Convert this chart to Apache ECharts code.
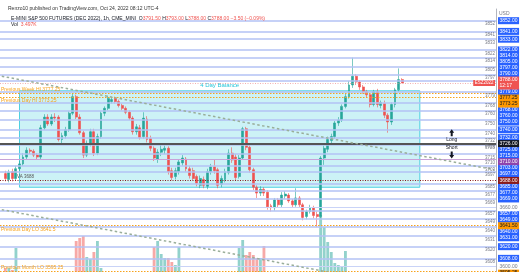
<!DOCTYPE html>
<html><head><meta charset="utf-8">
<script src="https://cdn.jsdelivr.net/npm/echarts@6/dist/echarts.min.js"></script>
<style>html,body{margin:0;padding:0;background:#fff;overflow:hidden}#c{width:520px;height:272px}</style>
</head><body><div id="c"></div>
<script>
// ---- data (1h candles) ----
const opens = [3695,3689,3697,3690,3700,3705,3712,3719,3718,3714,3712,3742,3753,3746,3753,3753,3730,3734,3740,3757,3774,3753,3737,3714,3726,3738,3716,3733,3757,3762,3769,3772,3769,3765,3762,3758,3752,3738,3742,3733,3751,3731,3721,3710,3717,3719,3721,3698,3692,3697,3706,3710,3700,3698,3692,3683,3689,3682,3697,3702,3699,3684,3689,3696,3716,3712,3692,3711,3741,3722,3699,3681,3675,3679,3676,3662,3660,3668,3663,3672,3673,3667,3663,3670,3663,3651,3656,3660,3653,3651,3711,3720,3729,3733,3747,3750,3764,3774,3786,3795,3789,3784,3779,3776,3766,3779,3765,3767,3755,3748,3766,3781,3791.5];
const closes = [3690,3696,3690,3700,3705,3712,3719,3718,3714,3712,3742,3753,3746,3753,3752,3730,3734,3740,3757,3774,3753,3737,3714,3726,3738,3716,3733,3757,3762,3772,3771,3769,3765,3762,3758,3752,3738,3743,3732,3752,3730,3721,3711,3717,3720,3721,3697,3691,3698,3707,3711,3700,3693,3690,3685,3690,3683,3697,3702,3698,3683,3690,3697,3716,3709,3691,3711,3741,3722,3699,3681,3675,3679,3675,3661,3660,3668,3663,3673,3674,3667,3663,3670,3663,3650,3656,3660,3652,3651,3711,3721,3730,3733,3747,3750,3764,3774,3786,3795,3789,3784,3779,3776,3766,3779,3766,3768,3755,3748,3766,3781,3791.5,3788];
const lows = [3687,3686,3687,3688,3697,3703,3710,3715,3712,3709,3710,3740,3744,3744,3748,3728,3726,3731,3738,3755,3751,3735,3711,3712,3723,3713,3714,3731,3754,3760,3767,3767,3763,3760,3756,3750,3735,3735,3730,3731,3727,3718,3708,3706,3713,3715,3694,3688,3689,3694,3703,3697,3690,3688,3682,3680,3680,3679,3694,3695,3680,3681,3686,3694,3706,3688,3690,3709,3719,3696,3678,3670,3672,3672,3658,3656,3657,3660,3660,3669,3665,3660,3661,3660,3647,3648,3654,3649,3640,3649,3704,3717,3726,3731,3744,3748,3762,3772,3783,3786,3781,3777,3773,3763,3764,3763,3762,3752,3737,3745,3763,3779,3788];
const highs = [3698,3699,3700,3703,3708,3716,3722,3721,3720,3716,3745,3756,3756,3756,3757,3755,3737,3743,3759,3777,3776,3756,3739,3729,3741,3741,3736,3759,3764,3775,3773,3774,3771,3767,3764,3760,3754,3746,3745,3758,3754,3734,3723,3720,3726,3724,3723,3701,3701,3710,3714,3712,3703,3701,3694,3693,3692,3700,3705,3710,3701,3693,3700,3720,3722,3715,3714,3743,3743,3724,3701,3683,3682,3681,3678,3664,3670,3670,3676,3677,3675,3669,3680,3672,3665,3658,3663,3662,3656,3713,3724,3733,3736,3749,3753,3766,3777,3790,3814,3797,3791,3786,3781,3778,3781,3782,3770,3770,3757,3768,3783,3803,3793];
const volumes = [44,44,42,64,30,28,25,20,18,22,35,30,24,22,20,33,26,22,30,36,71,74,76,55,53,60,71,44,30,28,22,20,18,17,19,24,32,25,27,30,34,36,65,71,58,54,54,50,47,65,36,30,28,25,24,22,20,26,22,18,24,20,22,30,28,32,64,72,57,60,57,54,54,66,36,28,22,20,24,18,16,18,20,22,30,24,20,26,38,97,85,70,60,49,47,46,61,38,36,30,26,22,20,26,24,22,18,24,30,28,25,22,8];

// horizontal levels (blue lines, grey line labels, blue price boxes)
const levels = [3852,3841,3833,3822,3814,3805,3797,3790,3779,3768,3760,3750,3740,3732,3725,3715,3703,3697,3685,3677,3669,3657,3649,3640,3631,3620,3608];
const currentPrice = 3788;
const pivotLevel = 3726;
const purpleLevel = 3710;
const vaLevel = 3688;
const prevLevels = [3777.25, 3773.25, 3641.5, 3595.25];
const prevNames = ['Previous Week HI 3777.25', 'Previous Day HI 3773.25', 'Previous Day LO 3641.5', 'Previous Month LO 3595.25'];
const greyLevels = [3660, 3600];
const balanceTop = 3780, balanceBottom = 3681;
const balanceStartSlot = 5, balanceEndSlot = 118;
const trendA = [[0, 3795], [139, 3699]];
const trendB = [[0, 3658], [92, 3594]];

// ---- layout ----
const padBefore = 1, padAfter = 26;
const N = opens.length;
const total = N + padBefore + padAfter;
const categories = [];
for (let k = 0; k < total; k++) categories.push(String(k));

const UP = '#26a69a', DOWN = '#ef5350';
const candleData = categories.map((_, k) => {
  const i = k - padBefore;
  return (i >= 0 && i < N) ? [opens[i], closes[i], lows[i], highs[i]] : '-';
});
const volData = categories.map((_, k) => {
  const i = k - padBefore;
  if (i < 0 || i >= N) return '-';
  return { value: volumes[i], itemStyle: { color: closes[i] >= opens[i] ? 'rgba(38,166,154,0.5)' : 'rgba(239,83,80,0.5)' } };
});

const boxes = [];
levels.forEach(v => boxes.push({ v, text: v.toFixed(2), bg: '#2962ff', fg: '#fff', hh: 3 }));
boxes.push({ v: currentPrice, text: currentPrice.toFixed(2) + '\n12:17', bg: '#ef5350', fg: '#fff', hh: 6, cur: true });
boxes.push({ v: pivotLevel, text: pivotLevel.toFixed(2), bg: '#131722', fg: '#fff', hh: 3 });
boxes.push({ v: purpleLevel, text: purpleLevel.toFixed(2), bg: '#8e44ad', fg: '#fff', hh: 3 });
boxes.push({ v: vaLevel, text: vaLevel.toFixed(2), bg: '#8b1a1a', fg: '#fff', hh: 3 });
prevLevels.forEach(v => boxes.push({ v, text: v.toFixed(2), bg: '#ff9800', fg: '#131722', hh: 3 }));
greyLevels.forEach(v => boxes.push({ v, text: v.toFixed(2), bg: '#ffffff', fg: '#787b86', hh: 3 }));

const chart = echarts.init(document.getElementById('c'));
const FONT = 'Liberation Sans, Arial, sans-serif';

function boxMarkData(offsets) {
  return boxes.map((b, i) => ({
    yAxis: b.v,
    lineStyle: { color: 'rgba(0,0,0,0)', width: 0.1 },
    label: {
      show: true, position: 'end', distance: 2, formatter: b.text,
      backgroundColor: b.bg, color: b.fg, fontSize: 5, lineHeight: 6, padding: [0.5, 1.5],
      fontFamily: FONT, offset: [0, offsets ? offsets[i] : 0]
    }
  }));
}

const option = {
  animation: false,
  backgroundColor: '#fff',
  title: [
    { text: 'Renzo10 published on TradingView.com, Oct 24, 2022 08:12 UTC-4', left: 3, top: 1,
      textStyle: { fontSize: 5, color: '#333', fontWeight: 'normal', fontFamily: FONT } },
    { text: 'E-MINI S&P 500 FUTURES (DEC 2022), 1h, CME_MINI  O{r|3791.50} H{r|3793.00} L{r|3788.00} C{r|3788.00} {r|−3.50 (−0.09%)}',
      left: 6, top: 11,
      textStyle: { fontSize: 5, color: '#131722', fontWeight: 'normal', fontFamily: FONT,
        rich: { r: { color: '#ef5350', fontSize: 5, fontFamily: FONT } } } },
    { text: 'Vol  {r|3.497K}', left: 6, top: 17,
      textStyle: { fontSize: 5, color: '#131722', fontWeight: 'normal', fontFamily: FONT,
        rich: { r: { color: '#ef5350', fontSize: 5, fontFamily: FONT } } } }
  ],
  graphic: [
    { type: 'text', left: 499, top: 11, style: { text: 'USD', fontSize: 5, fill: '#787b86', fontFamily: FONT } }
  ],
  grid: [
    { left: 0, right: 24, top: 9, height: 263 },
    { left: 0, right: 24, top: 140, height: 132 }
  ],
  xAxis: [
    { type: 'category', data: categories, gridIndex: 0, boundaryGap: true, axisLine: { show: false }, axisTick: { show: false }, axisLabel: { show: false }, splitLine: { show: false } },
    { type: 'category', data: categories, gridIndex: 1, boundaryGap: true, show: false }
  ],
  yAxis: [
    { type: 'value', gridIndex: 0, min: 3594, max: 3864, position: 'right', axisLine: { show: true, lineStyle: { color: '#b2b5be' } }, axisTick: { show: false }, axisLabel: { show: false }, splitLine: { show: false } },
    { type: 'value', gridIndex: 1, min: 40, max: 172, show: false, splitLine: { show: false } }
  ],
  series: [
    { type: 'bar', xAxisIndex: 1, yAxisIndex: 1, data: volData, barWidth: '80%', z: 1, clip: true },
    { type: 'line', xAxisIndex: 0, yAxisIndex: 0, data: categories.map(() => '-'), z: 2, silent: true,
      markLine: { silent: true, symbol: 'none', animation: false,
        lineStyle: { color: '#b3c2f5', width: 1.5, type: 'solid' },
        label: { show: true, position: 'insideEndBottom', distance: 1, color: '#787b86', fontSize: 4.5, fontFamily: FONT, formatter: p => String(p.value) },
        data: levels.map(v => ({ yAxis: v }))
          .concat([{ yAxis: pivotLevel, lineStyle: { color: '#555', width: 2 }, label: { formatter: 'Pivot' } },
                   { yAxis: purpleLevel, lineStyle: { color: '#c8a2d8', width: 1 }, label: { formatter: String(purpleLevel) } },
                   { yAxis: vaLevel, lineStyle: { color: '#8b1a1a', width: 1, type: [1, 1.5] }, label: { position: 'insideStartTop', formatter: 'VA 3688', color: '#555', offset: [16, 0] } },
                   { yAxis: currentPrice, lineStyle: { color: '#ef9a9a', width: 0.8, type: [1, 1.5] }, label: { position: 'insideEnd', formatter: 'ESZ2022', backgroundColor: '#ef5350', color: '#fff', padding: [0.5, 1.5], fontSize: 4.5 } }])
          .concat(greyLevels.map(v => ({ yAxis: v, lineStyle: { color: '#c9d3f7', width: 1 }, label: { show: false } })))
          .concat(prevLevels.map((v, i) => ({ yAxis: v, lineStyle: { color: '#f7a21b', width: 1, type: [1.5, 1.5] },
            label: { position: (i === 0 || i === 3) ? 'insideStartTop' : 'insideStartBottom', formatter: prevNames[i], color: '#f7a21b', fontSize: 5 } })))
          .concat([
            [{ coord: trendA[0], lineStyle: { color: '#9aae9a', width: 1.5, type: [2.5, 2.5] }, label: { show: false } }, { coord: trendA[1] }],
            [{ coord: trendB[0], lineStyle: { color: '#9aae9a', width: 1.5, type: [2.5, 2.5] }, label: { show: false } }, { coord: trendB[1] }]
          ])
      },
      markPoint: { silent: true, animation: false,
        data: [
          { coord: [127, 3737], symbol: 'path://M5,0 L10,5 L7,5 L7,10 L3,10 L3,5 L0,5 Z', symbolSize: [5, 7], itemStyle: { color: '#131722' },
            label: { show: true, position: 'bottom', distance: 1, formatter: 'Long', color: '#131722', fontSize: 5, fontFamily: FONT } },
          { coord: [127, 3714], symbol: 'path://M5,0 L10,5 L7,5 L7,10 L3,10 L3,5 L0,5 Z', symbolRotate: 180, symbolSize: [5, 7], itemStyle: { color: '#131722' },
            label: { show: true, position: 'top', distance: 1, formatter: 'Short', color: '#131722', fontSize: 5, fontFamily: FONT } }
        ]
      }
    },
    { type: 'candlestick', xAxisIndex: 0, yAxisIndex: 0, data: candleData, z: 3, barWidth: 2.4,
      itemStyle: { color: UP, color0: DOWN, borderColor: UP, borderColor0: DOWN, borderWidth: 0.6 },
      markArea: { silent: true, z: 0,
        itemStyle: { color: 'rgba(0,188,212,0.2)', borderColor: '#4dd0e1', borderWidth: 1 },
        label: { show: true, position: 'top', distance: 2, color: '#26c6da', fontSize: 6, fontFamily: FONT },
        data: [[{ xAxis: balanceStartSlot, yAxis: balanceTop, name: '4 Day Balance' }, { xAxis: balanceEndSlot, yAxis: balanceBottom }]]
      }
    },
    { type: 'line', xAxisIndex: 0, yAxisIndex: 0, data: categories.map(() => '-'), z: 10, silent: true,
      markLine: { silent: true, symbol: 'none', animation: false, data: boxMarkData(null) } }
  ]
};
chart.setOption(option);

// resolve overlapping price boxes on the axis (like the platform does)
const ys = boxes.map(b => chart.convertToPixel({ yAxisIndex: 0 }, b.v));
const order = boxes.map((b, i) => i).sort((a, b) => ys[a] - ys[b]);
const ny = ys.slice();
const curPos = order.findIndex(i => boxes[i].cur);
for (let k = curPos + 1; k < order.length; k++) {
  const i = order[k], p = order[k - 1];
  ny[i] = Math.max(ys[i], ny[p] + boxes[p].hh + boxes[i].hh);
}
for (let k = curPos - 1; k >= 0; k--) {
  const i = order[k], n = order[k + 1];
  ny[i] = Math.min(ys[i], ny[n] - boxes[n].hh - boxes[i].hh);
}
const offsets = ys.map((y, i) => ny[i] - y);
const opt2 = chart.getOption();
opt2.series[3].markLine.data = boxMarkData(offsets);
chart.setOption({ series: opt2.series });
</script></body></html>
